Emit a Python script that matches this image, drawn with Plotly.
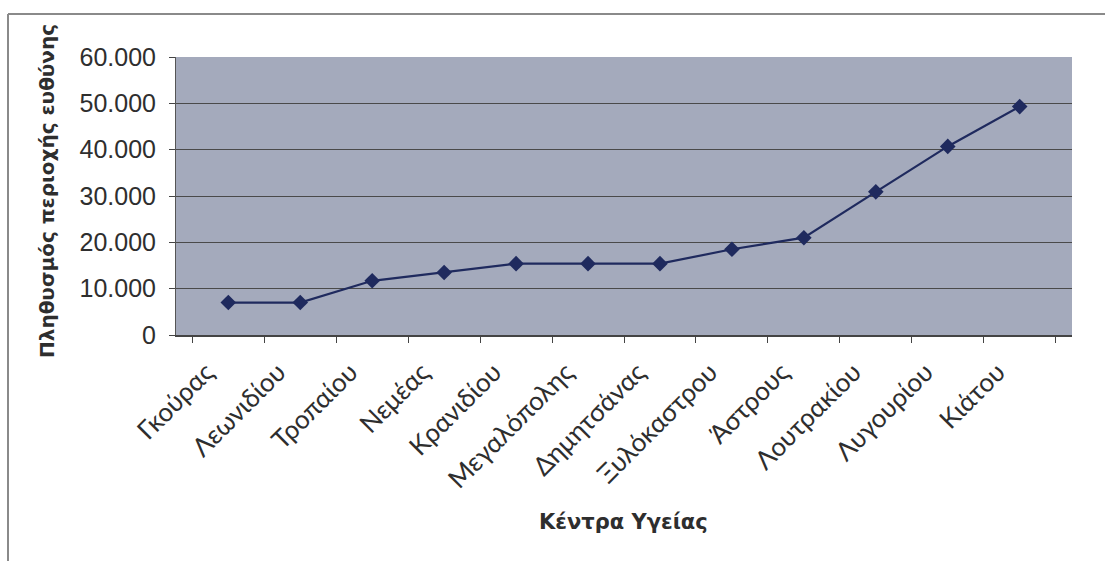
import plotly.graph_objects as go

# Health centres and the population of the area each one covers
centres = ["Γκούρας", "Λεωνιδίου", "Τροπαίου", "Νεμέας", "Κρανιδίου", "Μεγαλόπολης",
           "Δημητσάνας", "Ξυλόκαστρου", "Άστρους", "Λουτρακίου", "Λυγουρίου", "Κιάτου"]
population = [7000, 7000, 11700, 13500, 15400, 15400, 15400, 18500, 21000, 30900, 40700, 49300]

y_ticks = [0, 10000, 20000, 30000, 40000, 50000, 60000]

W, H = 1105, 561
L, R, T, B = 176, 33, 57, 226
pw, ph = W - L - R, H - T - B


def px_x(x):
    return (x - L) / pw


def px_y(y):
    return (H - B - y) / ph


TITLE_FAMILY = "DejaVu Sans, Verdana, sans-serif"

fig = go.Figure()
fig.add_trace(go.Scatter(
    x=centres, y=population, mode="lines+markers",
    line=dict(color="#1f2a5e", width=2.2),
    marker=dict(symbol="diamond", size=12, color="#1f2a5e"),
    showlegend=False, hoverinfo="x+y",
))

fig.update_layout(
    width=W, height=H,
    margin=dict(l=L, r=R, t=T, b=B, pad=0),
    paper_bgcolor="white",
    plot_bgcolor="#a4aabc",
    separators=",.",
    font=dict(family="Liberation Sans, Arial, sans-serif", color="#333333"),
    xaxis=dict(
        type="category", tickson="boundaries", showgrid=False,
        ticks="outside", ticklen=6, tickcolor="#444444", tickwidth=1,
        showline=True, linecolor="#444444", linewidth=1.5, mirror=False,
        tickangle=-45, ticklabelstandoff=10, ticklabelshift=-22,
        tickfont=dict(family="Lato, Open Sans, sans-serif", size=26, color="#2e2e2e"),
    ),
    yaxis=dict(
        range=[0, 60000], tickvals=y_ticks, tickformat=",d",
        showgrid=True, gridcolor="#4a4a4a", gridwidth=1,
        ticks="outside", ticklen=6, tickcolor="#444444",
        showline=True, linecolor="#555555", linewidth=1,
        zeroline=False, ticklabelstandoff=8,
        tickfont=dict(family="Liberation Sans, Arial, sans-serif", size=25, color="#2e2e2e"),
    ),
    annotations=[
        dict(text="<b>Πληθυσμός περιοχής ευθύνης</b>", xref="paper", yref="paper",
             x=px_x(47), y=px_y(191), xanchor="center", yanchor="middle",
             textangle=-90, showarrow=False,
             font=dict(family=TITLE_FAMILY, size=20, color="#2e2e2e")),
        dict(text="<b>Κέντρα Υγείας</b>", xref="paper", yref="paper",
             x=px_x(623), y=px_y(522), xanchor="center", yanchor="middle",
             showarrow=False,
             font=dict(family=TITLE_FAMILY, size=21, color="#2e2e2e")),
    ],
    shapes=[
        dict(type="line", xref="paper", yref="paper",
             x0=px_x(8), x1=px_x(1105), y0=px_y(14), y1=px_y(14),
             line=dict(color="#8a8a8a", width=2)),
        dict(type="line", xref="paper", yref="paper",
             x0=px_x(8), x1=px_x(8), y0=px_y(14), y1=px_y(561),
             line=dict(color="#8a8a8a", width=2)),
    ],
)

fig.write_html("out.html")
